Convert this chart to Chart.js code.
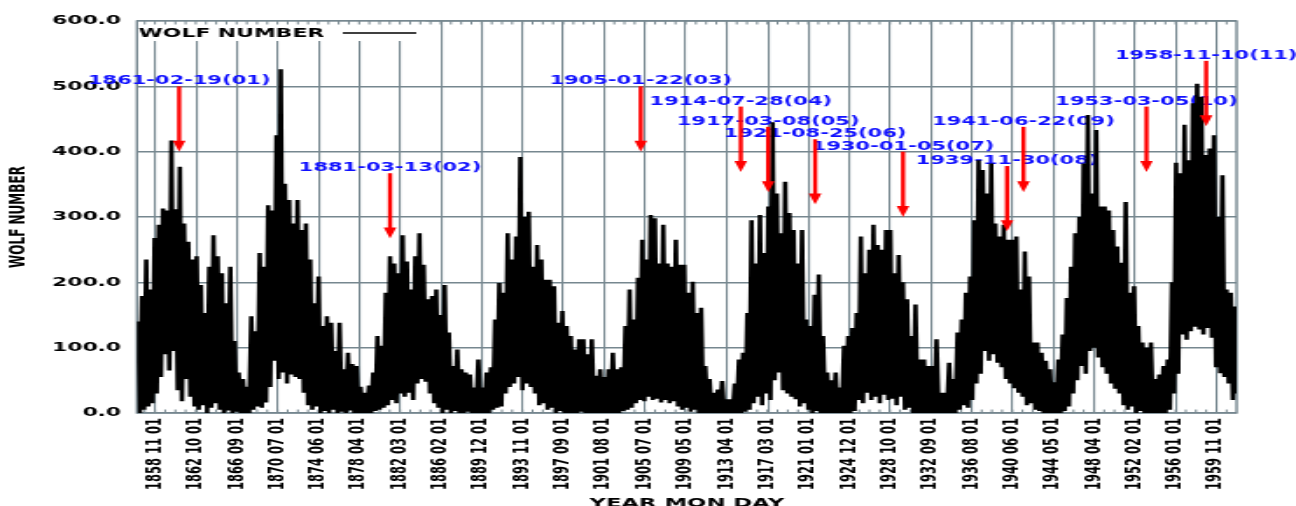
<!DOCTYPE html>
<html>
<head>
<meta charset="utf-8">
<script src="https://cdn.jsdelivr.net/npm/chart.js@4.4.1/dist/chart.umd.min.js"></script>
<style>
  html, body { margin: 0; padding: 0; background: #fff; overflow: hidden; }
  /* the picture is a wide stretch of a narrower plot */
  #wrap { width: 741px; height: 506px; transform: scaleX(1.749); transform-origin: 0 0; }
</style>
</head>
<body>
<div id="wrap"><canvas id="chart" width="741" height="506"></canvas></div>
<script>
// samples every 0.2 year from 1857.2, alternating high / low readings
const startYear = 1857.2;
const stepYears = 0.2;

const cycle10 = [140,0,179,5,235,10,189,15,268,30,288,55,313,90,310,65,417,95,312,35,377,18,290,52,262,25,235,10,240,5,196,12,153,0,224,8,272,15,240,5,214,0,168,4,224,0,110,2,62,0];
const cycle11 = [52,0,40,0,148,5,125,10,245,8,224,16,318,40,310,80,425,52,526,62,351,45,326,59,290,55,326,52,280,31,290,12,235,5,168,10,209,0,133,3,148,0,138,5,95,0,138,2,67,0,92,4,75,0,72,0,40,0,31,0];
const cycle12 = [42,0,62,3,118,5,103,8,184,12,240,20,229,15,214,30,272,25,232,31,189,20,240,45,275,52,227,48,174,30,179,15,189,8,150,0,196,5,123,0,72,3,97,0,67,0,62,2,59,0,39,0,82,0,39,0];
const cycle13 = [62,0,70,5,143,8,199,10,184,30,275,40,235,45,270,55,392,35,300,45,308,40,224,30,257,12,235,15,204,5,204,8,194,0,138,3,156,0,133,0,118,0,97,0,113,2,113,0,90,0,113,0,57,0,67,0];
const cycle14 = [55,0,67,0,92,0,67,0,70,3,133,5,189,8,143,15,207,20,265,18,235,25,303,20,298,22,229,16,288,20,229,15,224,18,265,10,227,5,227,8,184,2,201,5,153,0,161,0,72,0,52,0,31,0,36,0,49,0,21,0];
const cycle15 = [21,0,45,0,82,0,92,2,153,5,295,15,229,25,303,12,245,30,316,20,445,50,336,62,275,35,354,30,306,25,280,21,229,10,280,15,143,5,133,0,181,3,212,0,118,0,62,0,50,0,62,0];
const cycle16 = [39,0,103,0,118,0,130,3,153,20,270,15,214,31,250,20,288,25,257,15,250,28,280,20,280,22,214,12,242,25,200,5,174,8,118,0,166,0,82,0,82,0,72,0,72,0,113,0,31,0];
const cycle17 = [31,0,77,0,52,0,123,5,143,12,184,8,209,20,295,45,387,60,372,95,336,80,382,90,290,77,270,70,288,52,265,45,265,38,270,31,189,25,247,12,209,15,108,5,108,3,92,0,80,0,67,0,47,0];
const cycle18 = [82,0,120,3,176,10,224,30,275,50,300,72,382,60,456,95,336,100,433,85,316,70,316,60,310,45,280,37,255,30,230,12,323,5,184,10,194,0,133,3,108,0,100,0,108,0,52,0,59,0];
const cycle19 = [72,0,82,5,200,30,383,60,367,120,441,112,387,125,474,132,504,128,484,120,395,130,405,115,425,70,300,61,364,55,189,45,184,20,163,30];

const tickLabels = ["1858 11 01","1862 10 01","1866 09 01","1870 07 01","1874 06 01","1878 04 01","1882 03 01",
  "1886 02 01","1889 12 01","1893 11 01","1897 09 01","1901 08 01","1905 07 01","1909 05 01","1913 04 01",
  "1917 03 01","1921 01 01","1924 12 01","1928 10 01","1932 09 01","1936 08 01","1940 06 01","1944 05 01",
  "1948 04 01","1952 02 01","1956 01 01","1959 11 01"];

const eventDates = ["1861-02-19","1881-03-13","1905-01-22","1914-07-28","1917-03-08","1921-08-25",
  "1930-01-05","1939-11-30","1941-06-22","1953-03-05","1958-11-10"];
const eventTops = [500,367,500,469,438,419,400,378,438,469,539];

const yearOf = s => {
  const p = s.split(/[ -]/).map(Number);
  return p[0] + (p[1] - 1) / 12 + (p[2] - 1) / 365;
};

const wolf = [].concat(cycle10, cycle11, cycle12, cycle13, cycle14, cycle15, cycle16, cycle17, cycle18, cycle19);
const points = wolf.map((v, i) => ({x: startYear + i * stepYears, y: v}));

const gridColor = '#76878f';
const FONT = '"DejaVu Sans", sans-serif';

const decor = {
  id: 'decor',
  beforeDatasetsDraw(chart) {
    const {ctx, chartArea: a, scales: {x, y}} = chart;
    ctx.save();
    // legend sits on a white patch
    ctx.fillStyle = '#fff';
    ctx.fillRect(a.left, a.top, 165, 20);

    // frame
    ctx.strokeStyle = gridColor;
    ctx.lineWidth = 1.4;
    ctx.strokeRect(a.left, a.top, a.right - a.left, a.bottom - a.top);

    // minor ticks on top and bottom
    const maj = x.ticks.map(t => x.getPixelForValue(t.value));
    const gap = (maj[maj.length - 1] - maj[0]) / (maj.length - 1);
    ctx.lineWidth = 1;
    ctx.beginPath();
    for (let px = maj[0] - gap; px < a.right; px += gap / 4) {
      if (px <= a.left + 1) continue;
      ctx.moveTo(px, a.top); ctx.lineTo(px, a.top + 3.5);
      ctx.moveTo(px, a.bottom); ctx.lineTo(px, a.bottom - 3.5);
    }
    ctx.stroke();

    // legend
    ctx.fillStyle = '#000';
    ctx.font = 'bold 12.5px ' + FONT;
    ctx.textBaseline = 'middle';
    ctx.textAlign = 'left';
    ctx.fillText('WOLF NUMBER', a.left + 1, a.top + 12.5);
    ctx.strokeStyle = '#000';
    ctx.lineWidth = 1.3;
    ctx.beginPath();
    ctx.moveTo(196, a.top + 12);
    ctx.lineTo(238, a.top + 12);
    ctx.stroke();

    // event labels
    ctx.fillStyle = '#1010ff';
    ctx.font = 'bold 12px ' + FONT;
    ctx.textAlign = 'center';
    ctx.textBaseline = 'alphabetic';
    eventDates.forEach((d, i) => {
      const px = x.getPixelForValue(yearOf(d));
      const py = y.getPixelForValue(eventTops[i]);
      ctx.fillText(d + '(' + String(i + 1).padStart(2, '0') + ')', px, py - 2);
    });
    ctx.restore();
  },
  afterDatasetsDraw(chart) {
    const {ctx, scales: {x, y}} = chart;
    ctx.save();
    ctx.fillStyle = '#ff0000';
    ctx.strokeStyle = '#ff0000';
    eventDates.forEach((d, i) => {
      const px = x.getPixelForValue(yearOf(d));
      const top = y.getPixelForValue(eventTops[i]);
      const tip = y.getPixelForValue(eventTops[i] - 100);
      ctx.lineWidth = 2.4;
      ctx.beginPath();
      ctx.moveTo(px, top);
      ctx.lineTo(px, tip - 9);
      ctx.stroke();
      ctx.beginPath();
      ctx.moveTo(px - 3.6, tip - 11);
      ctx.lineTo(px + 3.6, tip - 11);
      ctx.lineTo(px, tip);
      ctx.closePath();
      ctx.fill();
    });
    ctx.restore();
  },
  afterDraw(chart) {
    const {ctx, chartArea: a} = chart;
    ctx.save();
    ctx.fillStyle = '#000';
    ctx.font = 'bold 13px ' + FONT;
    ctx.textAlign = 'center';
    ctx.textBaseline = 'alphabetic';
    ctx.fillText('YEAR MON DAY', (a.left + a.right) / 2, 507);
    ctx.translate(11, (a.top + a.bottom) / 2);
    ctx.rotate(-Math.PI / 2);
    ctx.font = 'bold 12px ' + FONT;
    ctx.textBaseline = 'middle';
    ctx.fillText('WOLF NUMBER', 0, 0);
    ctx.restore();
  }
};

new Chart(document.getElementById('chart'), {
  type: 'line',
  data: {
    datasets: [{
      label: 'WOLF NUMBER',
      data: points,
      borderColor: '#000',
      borderWidth: 2.6,
      borderJoinStyle: 'bevel',
      pointRadius: 0,
      tension: 0,
      fill: false
    }]
  },
  options: {
    responsive: false,
    animation: false,
    events: [],
    layout: { padding: { left: 0, right: 34, top: 21, bottom: 0 } },
    plugins: { legend: { display: false }, tooltip: { enabled: false } },
    scales: {
      x: {
        type: 'linear',
        min: 1857.12,
        max: 1961.75,
        afterBuildTicks: s => { s.ticks = tickLabels.map(t => ({ value: yearOf(t) })); },
        afterFit: s => { s.height = 93; },
        grid: { color: gridColor, lineWidth: 1.1, drawTicks: false },
        border: { display: false },
        ticks: {
          autoSkip: false,
          minRotation: 90,
          maxRotation: 90,
          padding: 5,
          color: '#000',
          font: { family: FONT, size: 11.5, weight: 'bold' },
          callback: (v, i) => tickLabels[i]
        }
      },
      y: {
        min: 0,
        max: 600,
        afterFit: s => { s.width = 78.3; },
        grid: { color: gridColor, lineWidth: 1.5, drawTicks: false },
        border: { display: false },
        ticks: {
          stepSize: 100,
          padding: 9,
          color: '#000',
          font: { family: FONT, size: 12.5, weight: 'bold' },
          callback: v => v.toFixed(1)
        }
      }
    }
  },
  plugins: [decor]
});
</script>
</body>
</html>
